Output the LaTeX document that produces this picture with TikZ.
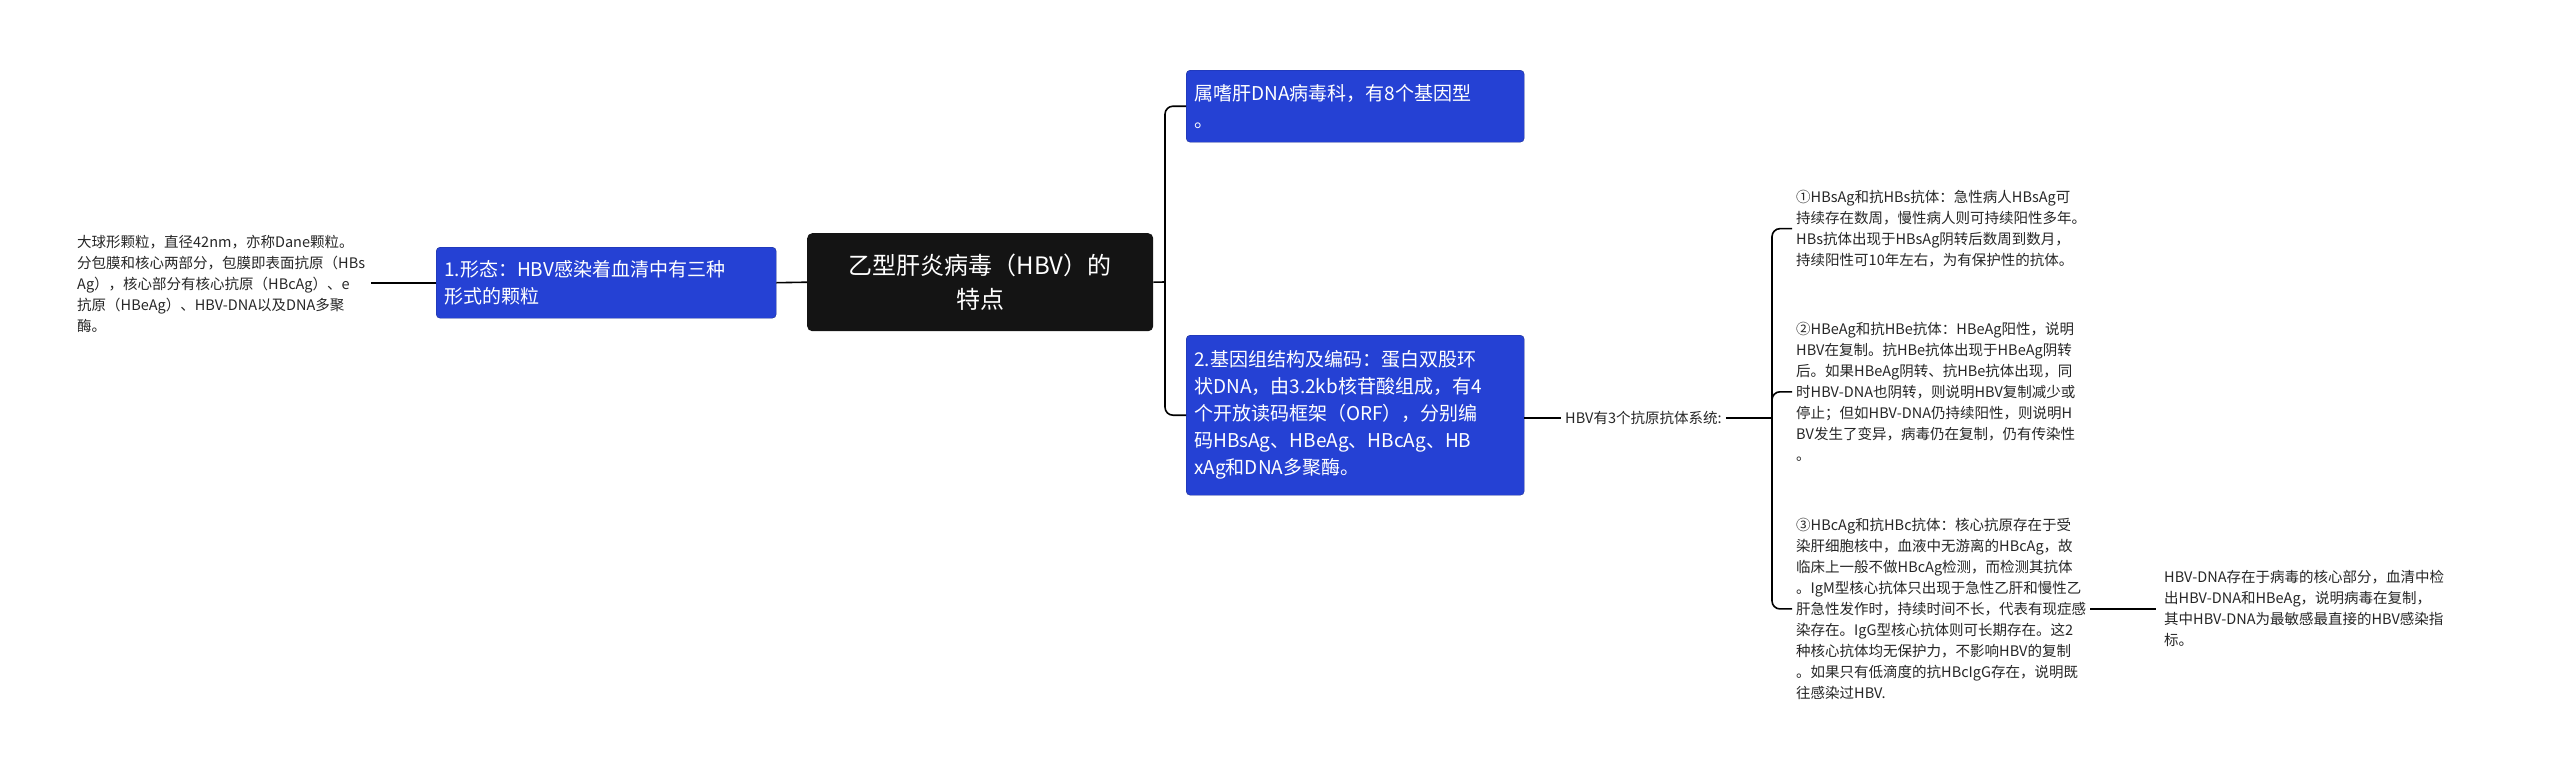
\documentclass[tikz,border=0pt]{standalone}
\usepackage{fontspec}
\setmainfont{Noto Sans CJK SC}
\XeTeXlinebreaklocale "zh"
\XeTeXlinebreakskip=0pt plus 1pt
\begin{document}
\begin{tikzpicture}[x=1pt,y=-1pt,
  bluebox/.style={fill=cblue, draw=cblue!70!black, rounded corners=4pt, text=white, font=\fontsize{19}{27}\selectfont, align=left, anchor=north west, inner sep=8pt},
  plain/.style={font=\fontsize{14.5}{21}\selectfont, align=left, anchor=north west, inner sep=0pt, text=black!85},
  ln/.style={draw=black, line width=1.6pt}]
\definecolor{cblue}{HTML}{2541D4}
\useasboundingbox (0,0) rectangle (2560,777);
\node[fill=black!92, rounded corners=5pt, text=white, font=\fontsize{24}{34}\selectfont, align=center, minimum width=346pt, minimum height=98pt, anchor=north west] (root) at (807,233) {乙型肝炎病毒（HBV）的\\特点};
\node[bluebox, text width=324pt, minimum height=71pt] (n1) at (436,247) {1.形态：HBV感染着血清中有三种\\形式的颗粒};
\node[plain] (t1) at (77,235) {大球形颗粒，直径42nm，亦称Dane颗粒。\\分包膜和核心两部分，包膜即表面抗原（HBs\\Ag），核心部分有核心抗原（HBcAg）、e\\抗原（HBeAg）、HBV-DNA以及DNA多聚\\酶。};
\node[bluebox, text width=322pt, minimum height=72pt] (top) at (1186,70) {属嗜肝DNA病毒科，有8个基因型\\。};
\node[bluebox, text width=322pt, minimum height=160pt] (n2) at (1186,335) {2.基因组结构及编码：蛋白双股环\\状DNA，由3.2kb核苷酸组成，有4\\个开放读码框架（ORF），分别编\\码HBsAg、HBeAg、HBcAg、HB\\xAg和DNA多聚酶。};
\node[plain, anchor=west] (lab) at (1565,418) {HBV有3个抗原抗体系统:};
\node[plain] (a1) at (1796,190) {①HBsAg和抗HBs抗体：急性病人HBsAg可\\持续存在数周，慢性病人则可持续阳性多年。\\HBs抗体出现于HBsAg阴转后数周到数月，\\持续阳性可10年左右，为有保护性的抗体。};
\node[plain] (a2) at (1796,322) {②HBeAg和抗HBe抗体：HBeAg阳性，说明\\HBV在复制。抗HBe抗体出现于HBeAg阴转\\后。如果HBeAg阴转、抗HBe抗体出现，同\\时HBV-DNA也阴转，则说明HBV复制减少或\\停止；但如HBV-DNA仍持续阳性，则说明H\\BV发生了变异，病毒仍在复制，仍有传染性\\。};
\node[plain] (a3) at (1796,518) {③HBcAg和抗HBc抗体：核心抗原存在于受\\染肝细胞核中，血液中无游离的HBcAg，故\\临床上一般不做HBcAg检测，而检测其抗体\\。IgM型核心抗体只出现于急性乙肝和慢性乙\\肝急性发作时，持续时间不长，代表有现症感\\染存在。IgG型核心抗体则可长期存在。这2\\种核心抗体均无保护力，不影响HBV的复制\\。如果只有低滴度的抗HBcIgG存在，说明既\\往感染过HBV.};
\node[plain] (a4) at (2164,570) {HBV-DNA存在于病毒的核心部分，血清中检\\出HBV-DNA和HBeAg，说明病毒在复制，\\其中HBV-DNA为最敏感最直接的HBV感染指\\标。};
\coordinate (b1) at (1165,282);
\coordinate (b2) at (1772,418);
\draw[ln] (root.west) -- (n1.east);
\draw[ln] (n1.west) -- ([xshift=6pt]t1.east |- n1.west);
\draw[ln] (root.east) -- (b1);
\draw[ln, rounded corners=8pt] (b1) |- (top.west);
\draw[ln, rounded corners=8pt] (b1) |- (n2.west);
\draw[ln] (n2.east |- lab.west) -- ([xshift=-4pt]lab.west);
\draw[ln] ([xshift=4pt]lab.east) -- (b2);
\draw[ln, rounded corners=8pt] (b2) |- ([xshift=-4pt]a1.west);
\draw[ln, rounded corners=8pt] (b2) |- ([xshift=-4pt]a2.west);
\draw[ln, rounded corners=8pt] (b2) |- ([xshift=-4pt]a3.west);
\draw[ln] ([xshift=4pt]a3.east) -- ([xshift=-8pt]a4.west |- a3.east);
\end{tikzpicture}
\end{document}
